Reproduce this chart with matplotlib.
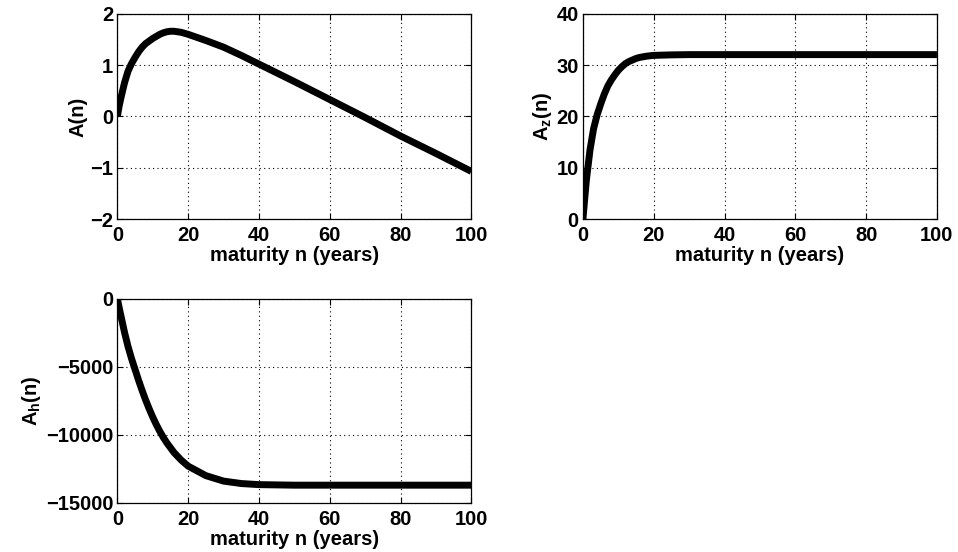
import matplotlib
matplotlib.use("Agg")
import matplotlib.pyplot as plt

plt.rcParams["font.family"] = ["Liberation Sans", "DejaVu Sans"]
plt.rcParams["font.weight"] = "bold"
plt.rcParams["mathtext.fontset"] = "custom"
plt.rcParams["mathtext.rm"] = "Liberation Sans:bold"
plt.rcParams["mathtext.bf"] = "Liberation Sans:bold"
plt.rcParams["mathtext.it"] = "Liberation Sans:bold"

# maturity grid (years)
n_years = [0, 0.5, 1, 2, 3, 4, 5, 6, 7, 8, 9, 10, 11, 12, 13, 14, 15, 16, 18,
           20, 25, 30, 35, 40, 50, 60, 70, 80, 90, 100]

# A(n)
a_vals = [0.0, 0.2, 0.36, 0.65, 0.88, 1.03, 1.15, 1.26, 1.35, 1.42, 1.47, 1.52,
          1.56, 1.6, 1.63, 1.65, 1.66, 1.66, 1.64, 1.6, 1.48, 1.35, 1.19, 1.02,
          0.68, 0.33, -0.02, -0.38, -0.72, -1.07]

# A_z(n)
az_vals = [0.0, 4.0, 7.8, 13.5, 17.6, 20.3, 22.4, 24.3, 25.9, 27.1, 28.1, 29.0,
           29.7, 30.3, 30.7, 31.0, 31.3, 31.5, 31.75, 31.9, 32.0, 32.05, 32.05,
           32.05, 32.05, 32.05, 32.05, 32.05, 32.05, 32.05]

# A_h(n)
ah_vals = [0, -650, -1250, -2450, -3500, -4400, -5200, -6000, -6750, -7450,
           -8100, -8700, -9250, -9750, -10200, -10600, -10950, -11300, -11850,
           -12300, -13000, -13400, -13580, -13660, -13700, -13700, -13700,
           -13700, -13700, -13700]

x_ticks = [0, 20, 40, 60, 80, 100]

panels = [
    ([0.1225, 0.603, 0.3695, 0.372], a_vals, (-2, 2), [-2, -1, 0, 1, 2], r"A(n)"),
    ([0.6085, 0.603, 0.3695, 0.372], az_vals, (0, 40), [0, 10, 20, 30, 40], r"$\mathbf{A_z(n)}$"),
    ([0.1225, 0.089, 0.3695, 0.370], ah_vals, (-15000, 0), [-15000, -10000, -5000, 0], r"$\mathbf{A_h(n)}$"),
]

fig = plt.figure(figsize=(9.58, 5.52), dpi=100)

for rect, vals, ylim, yticks, ylabel in panels:
    ax = fig.add_axes(rect)
    ax.plot(n_years, vals, color="black", lw=5, solid_capstyle="butt")
    ax.set_xlim(0, 100)
    ax.set_ylim(*ylim)
    ax.set_xticks(x_ticks)
    ax.set_yticks(yticks)
    ax.grid(True, color="black", linestyle=(0, (1, 3)), linewidth=0.8)
    ax.tick_params(direction="in", length=4, width=0.8, top=True, right=True,
                   labelsize=14.5)
    ax.tick_params(axis="x", pad=5)
    ax.tick_params(axis="y", pad=3)
    for s in ax.spines.values():
        s.set_linewidth(0.9)
    ax.set_xlabel("maturity n (years)", fontsize=14.5, fontweight="bold", labelpad=1)
    ax.set_ylabel(ylabel, fontsize=14.5, fontweight="bold", labelpad=2)

fig.savefig("out.png", dpi=100)
